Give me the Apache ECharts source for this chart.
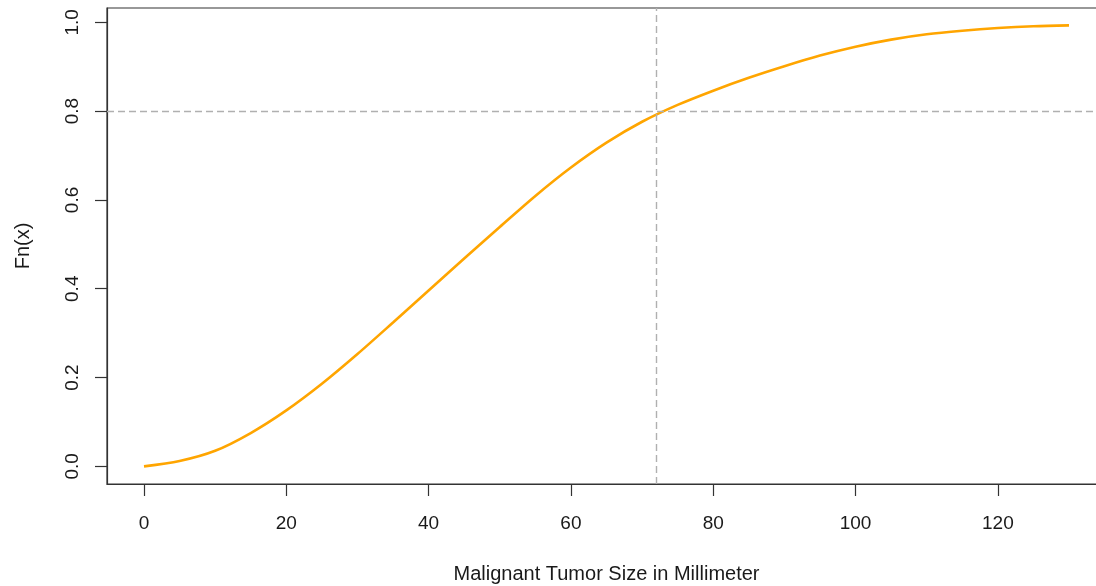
<!DOCTYPE html>
<html>
<head>
<meta charset="utf-8">
<title>Fn(x) - Malignant Tumor Size</title>
<script src="https://cdn.jsdelivr.net/npm/echarts@6/dist/echarts.min.js"></script>
<style>
  html, body { margin: 0; padding: 0; background: #fff; }
  #chart { width: 1096px; height: 586px; }
</style>
</head>
<body>
<div id="chart"></div>
<script>
// tumor size (mm) and the cumulative value
const sizeMm = [0, 5, 10, 15, 20, 25, 30, 35, 40, 45, 50, 55, 60, 65,
  70, 75, 80, 85, 90, 95, 100, 105, 110, 115, 120, 125, 130];
const cdfValues = [0.000, 0.012, 0.035, 0.075, 0.126, 0.186, 0.253, 0.324, 0.396, 0.468, 0.539, 0.609, 0.673, 0.729,
  0.776, 0.814, 0.846, 0.875, 0.901, 0.925, 0.945, 0.961, 0.973, 0.981, 0.987, 0.991, 0.993];

const xTicks = [0, 20, 40, 60, 80, 100, 120];
const yTicks = [0, 0.2, 0.4, 0.6, 0.8, 1.0];

// dashed reference lines
const cutSize = 72;
const cutProb = 0.8;

const font = 'Liberation Sans, Arial, sans-serif';
const ink = '#1a1a1a';

const chart = echarts.init(document.getElementById('chart'), null, {renderer: 'canvas'});

chart.setOption({
  animation: false,
  grid: {
    left: 107, top: 8, width: 999, height: 476,
    show: true, borderColor: '#333', borderWidth: 1.2,
    containLabel: false, outerBoundsMode: 'none'
  },
  xAxis: {
    type: 'value',
    min: -5.2, max: 135.2,
    name: 'Malignant Tumor Size in Millimeter',
    nameLocation: 'middle',
    nameGap: 80,
    nameTextStyle: {fontFamily: font, fontSize: 20, color: ink},
    axisLine: {show: true, onZero: false, lineStyle: {color: '#333', width: 1.2}},
    axisTick: {show: true, length: 12, customValues: xTicks, lineStyle: {color: '#333', width: 1.2}},
    axisLabel: {customValues: xTicks, margin: 30, fontFamily: font, fontSize: 19, color: ink},
    splitLine: {show: false}
  },
  yAxis: {
    type: 'value',
    min: -0.0397, max: 1.0322,
    name: 'Fn(x)',
    nameLocation: 'middle',
    nameRotate: 90,
    nameGap: 74,
    nameTextStyle: {fontFamily: font, fontSize: 20, color: ink},
    axisLine: {show: true, onZero: false, lineStyle: {color: '#333', width: 1.2}},
    axisTick: {show: true, length: 12, customValues: yTicks, lineStyle: {color: '#333', width: 1.2}},
    axisLabel: {
      customValues: yTicks, rotate: 90, margin: 25,
      fontFamily: font, fontSize: 19, color: ink,
      formatter: v => v.toFixed(1)
    },
    splitLine: {show: false}
  },
  series: [{
    type: 'line',
    data: sizeMm.map((x, i) => [x, cdfValues[i]]),
    smooth: 0.3,
    showSymbol: false,
    lineStyle: {color: '#FFA500', width: 2.6},
    itemStyle: {color: '#FFA500'},
    markLine: {
      silent: true,
      symbol: 'none',
      label: {show: false},
      lineStyle: {color: '#b0b0b0', width: 1.4, type: [7, 4]},
      emphasis: {disabled: true},
      data: [{xAxis: cutSize}, {yAxis: cutProb}]
    }
  }]
});
</script>
</body>
</html>
